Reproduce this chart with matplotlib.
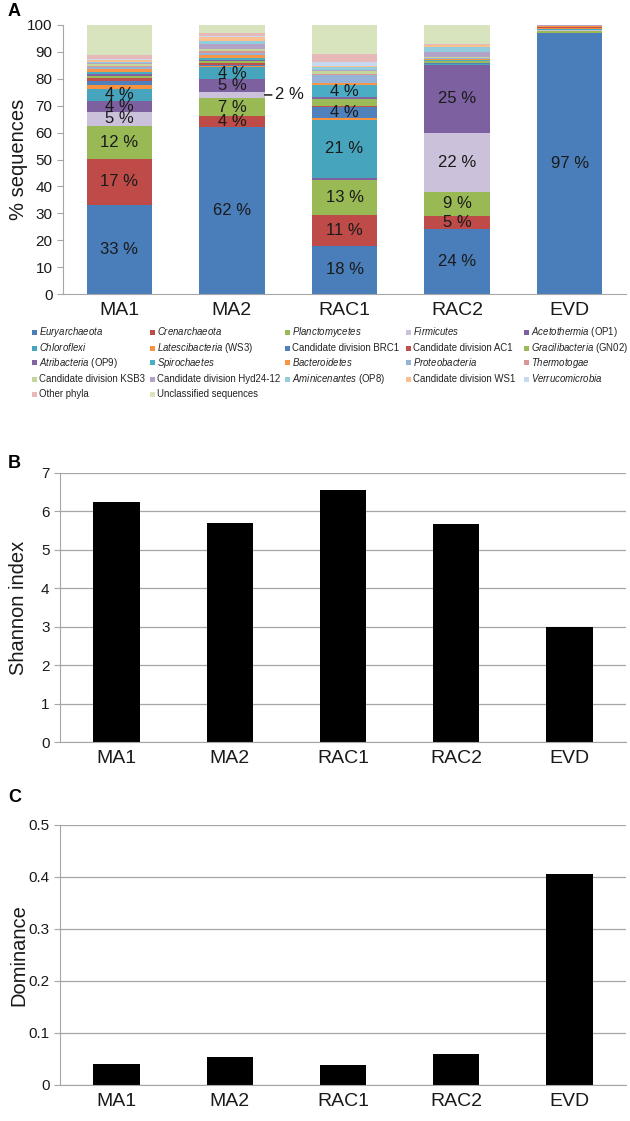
import matplotlib.pyplot as plt
from matplotlib.patches import Rectangle
import numpy as np

plt.rcParams['font.family'] = ['Liberation Sans', 'DejaVu Sans']
plt.rcParams['mathtext.fontset'] = 'custom'
plt.rcParams['mathtext.rm'] = 'Liberation Sans'
plt.rcParams['mathtext.it'] = 'Liberation Sans:italic'

samples = ['MA1', 'MA2', 'RAC1', 'RAC2', 'EVD']

phyla = [
    r'$\mathit{Euryarchaeota}$', r'$\mathit{Crenarchaeota}$', r'$\mathit{Planctomycetes}$',
    r'$\mathit{Firmicutes}$', r'$\mathit{Acetothermia}$ (OP1)', r'$\mathit{Chloroflexi}$',
    r'$\mathit{Latescibacteria}$ (WS3)', 'Candidate division BRC1', 'Candidate division AC1',
    r'$\mathit{Gracilibacteria}$ (GN02)', r'$\mathit{Atribacteria}$ (OP9)', r'$\mathit{Spirochaetes}$',
    r'$\mathit{Bacteroidetes}$', r'$\mathit{Proteobacteria}$', r'$\mathit{Thermotogae}$',
    'Candidate division KSB3', 'Candidate division Hyd24-12', r'$\mathit{Aminicenantes}$ (OP8)',
    'Candidate division WS1', r'$\mathit{Verrucomicrobia}$', 'Other phyla', 'Unclassified sequences',
]

phyla_colors = [
    '#4a7ebb', '#be4b48', '#98b954', '#ccc1da', '#7d60a0', '#46a5bd',
    '#f69240', '#4f81bd', '#c0504d', '#9bbb59', '#8064a2', '#4bacc6',
    '#f79646', '#95b3d7', '#d99694', '#c3d69b', '#b3a2c7', '#93cddd',
    '#fac090', '#c6d9f1', '#e6b9b8', '#d7e4bd',
]

# % sequences per phylum, one row per phylum, columns = samples
pct = np.array([
    [33.1, 62.0, 18.0, 24.0, 97.0],   # Euryarchaeota
    [17.2, 4.0, 11.2, 5.0, 0.2],      # Crenarchaeota
    [12.3, 7.0, 13.0, 9.0, 0.6],      # Planctomycetes
    [5.0, 2.0, 0.3, 22.0, 0.3],       # Firmicutes
    [4.3, 5.0, 0.8, 25.0, 0.2],       # Acetothermia
    [4.4, 4.3, 21.5, 0.4, 0.1],       # Chloroflexi
    [1.5, 0.5, 0.6, 0.2, 0.5],        # Latescibacteria
    [1.5, 0.5, 4.2, 0.2, 0.1],        # BRC1
    [1.0, 0.5, 0.3, 0.1, 0.1],        # AC1
    [0.8, 0.8, 2.5, 0.6, 0.1],        # Gracilibacteria
    [0.8, 0.5, 0.8, 0.3, 0.1],        # Atribacteria
    [0.8, 0.8, 4.5, 0.3, 0.1],        # Spirochaetes
    [0.8, 0.8, 0.6, 0.3, 0.1],        # Bacteroidetes
    [0.8, 1.0, 3.0, 0.3, 0.1],        # Proteobacteria
    [0.6, 0.8, 0.3, 0.1, 0.1],        # Thermotogae
    [0.5, 0.5, 1.2, 0.3, 0.1],        # KSB3
    [0.5, 2.0, 0.5, 1.8, 0.3],        # Hyd24-12
    [0.5, 1.0, 1.0, 1.8, 0.1],        # Aminicenantes
    [0.5, 1.5, 0.3, 0.8, 0.1],        # WS1
    [0.5, 0.5, 1.5, 0.2, 0.2],        # Verrucomicrobia
    [1.4, 1.2, 3.0, 0.3, 0.1],        # Other phyla
    [11.2, 2.8, 11.0, 7.0, 0.1],      # Unclassified
])

# percentage labels: (sample index, phylum index, text)
pct_labels = [
    (0, 0, '33 %'), (0, 1, '17 %'), (0, 2, '12 %'), (0, 3, '5 %'), (0, 4, '4 %'), (0, 5, '4 %'),
    (1, 0, '62 %'), (1, 1, '4 %'), (1, 2, '7 %'), (1, 4, '5 %'), (1, 5, '4 %'),
    (2, 0, '18 %'), (2, 1, '11 %'), (2, 2, '13 %'), (2, 5, '21 %'), (2, 7, '4 %'), (2, 11, '4 %'),
    (3, 0, '24 %'), (3, 1, '5 %'), (3, 2, '9 %'), (3, 3, '22 %'), (3, 4, '25 %'),
    (4, 0, '97 %'),
]

shannon = [6.25, 5.70, 6.56, 5.67, 3.0]
dominance = [0.040, 0.053, 0.038, 0.060, 0.405]

W, H = 630, 1121
fig = plt.figure(figsize=(W / 100, H / 100), dpi=100)

def px_axes(left, top, right, bottom):
    return fig.add_axes([left / W, 1 - bottom / H, (right - left) / W, (bottom - top) / H])

axis_col = '#a6a6a6'
txt_col = '#1a1a1a'

def style(ax, grid):
    for s in ['top', 'right']:
        ax.spines[s].set_visible(False)
    for s in ['left', 'bottom']:
        ax.spines[s].set_color(axis_col)
    ax.tick_params(axis='y', colors=axis_col, labelcolor=txt_col, labelsize=11, length=4)
    ax.tick_params(axis='x', length=0, labelsize=14, labelcolor=txt_col, pad=6)
    if grid:
        ax.yaxis.grid(True, color=axis_col, lw=0.9)
        ax.set_axisbelow(True)

x = np.arange(len(samples))

# ---- A
axA = px_axes(63, 25, 626, 294)
bottom = np.zeros(len(samples))
for i in range(len(phyla)):
    axA.bar(x, pct[i], 0.58, bottom=bottom, color=phyla_colors[i], label=phyla[i])
    bottom += pct[i]
cum = np.vstack([np.zeros(len(samples)), np.cumsum(pct, axis=0)])
for s, p, t in pct_labels:
    yc = (cum[p, s] + cum[p + 1, s]) / 2
    axA.text(s, yc, t, ha='center', va='center', fontsize=12, color=txt_col)
# Firmicutes in MA2 labelled outside the bar
yf = (cum[3, 1] + cum[4, 1]) / 2
axA.annotate('2 %', xy=(1 + 0.29, yf), xytext=(1 + 0.38, yf), ha='left', va='center',
             fontsize=12, color=txt_col,
             arrowprops=dict(arrowstyle='-', color='black', lw=1, shrinkA=0, shrinkB=0))
axA.set_xlim(-0.5, 4.5)
axA.set_ylim(0, 100)
axA.set_yticks(range(0, 101, 10))
axA.set_xticks(x)
axA.set_xticklabels(samples)
axA.set_ylabel('% sequences', fontsize=14.5, color=txt_col)
axA.yaxis.set_label_coords((28 - 63) / 563, 0.5)
style(axA, False)

# legend: 5 columns, filled row by row, baselines aligned
col_x = [32, 150, 285, 406, 524]
row_y = [332, 348, 363, 379, 394]
for k, (lab, colr) in enumerate(zip(phyla, phyla_colors)):
    r, c = divmod(k, 5)
    xs, yc = col_x[c], row_y[r]
    fig.add_artist(Rectangle((xs / W, 1 - (yc + 2.5) / H), 5 / W, 5 / H,
                             transform=fig.transFigure, color=colr, lw=0))
    fig.text((xs + 7) / W, 1 - (yc + 3) / H, lab, fontsize=6.9, color='#222222',
             ha='left', va='baseline')

# ---- B
axB = px_axes(60, 473, 626, 742)
axB.bar(x, shannon, 0.41, color='black')
axB.set_xlim(-0.5, 4.5)
axB.set_ylim(0, 7)
axB.set_yticks(range(0, 8))
axB.set_xticks(x)
axB.set_xticklabels(samples)
axB.set_ylabel('Shannon index', fontsize=14.5, color=txt_col)
axB.yaxis.set_label_coords((28 - 60) / 566, 0.5)
style(axB, True)

# ---- C
axC = px_axes(60, 825, 626, 1085)
axC.bar(x, dominance, 0.41, color='black')
axC.set_xlim(-0.5, 4.5)
axC.set_ylim(0, 0.5)
axC.set_yticks([0, 0.1, 0.2, 0.3, 0.4, 0.5])
axC.set_yticklabels(['0', '0.1', '0.2', '0.3', '0.4', '0.5'])
axC.set_xticks(x)
axC.set_xticklabels(samples)
axC.set_ylabel('Dominance', fontsize=14.5, color=txt_col)
axC.yaxis.set_label_coords((28 - 60) / 566, 0.5)
style(axC, True)

for lab, ypx in [('A', 12), ('B', 463), ('C', 798)]:
    fig.text(8 / W, 1 - ypx / H, lab, fontsize=13, fontweight='bold', va='center')

fig.savefig('out.png', dpi=100)
